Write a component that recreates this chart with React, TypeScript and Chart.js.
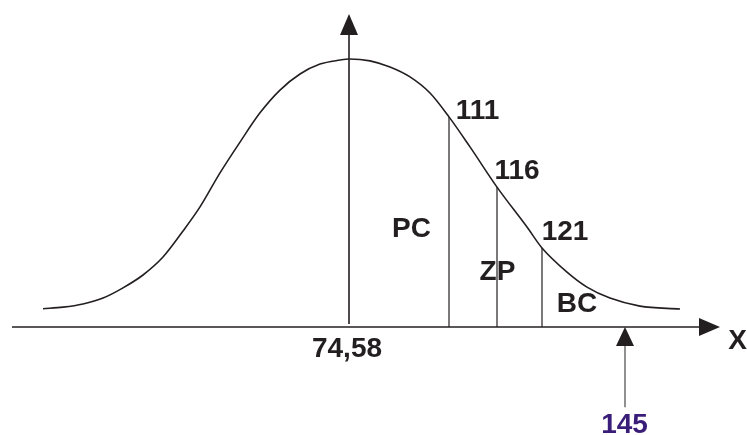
import { useEffect, useRef } from 'react';
import { Chart, registerables } from 'chart.js';

Chart.register(...registerables);

// ---- Data (schematic units: x in "positions" relative to the mean, y relative height, peak = 1) ----
const curveX = [-3.06, -2.86, -2.66, -2.46, -2.26, -2.06, -1.86, -1.66, -1.49, -1.29, -1.09, -0.89, -0.69, -0.49, -0.29, -0.09, 0, 0.21, 0.41, 0.61, 0.81, 1.0, 1.21, 1.48, 1.78, 1.93, 2.18, 2.38, 2.61, 2.91, 3.31];
const curveY = [0.068, 0.074, 0.086, 0.108, 0.146, 0.194, 0.261, 0.358, 0.448, 0.575, 0.69, 0.799, 0.884, 0.944, 0.981, 0.996, 1.0, 0.993, 0.97, 0.933, 0.873, 0.784, 0.672, 0.522, 0.373, 0.295, 0.205, 0.149, 0.108, 0.078, 0.067];

const cutLabels = ['111', '116', '121'];
const cutX = [1.0, 1.48, 1.93];
const cutY = [0.784, 0.522, 0.295];

const regionLabels = ['PC', 'ZP', 'BC'];

const meanLabel = '74,58';
const meanX = 0;
const meanAxisTop = 1.168;

const markLabel = '145';
const markX = 2.76;
const markBottom = -0.299;

const axisLabel = 'X';
const axisStart = -3.37;
const axisEnd = 3.71;

// ---- Text layout (in scale units) ----
const cutLabelPos = [
  [1.285, 0.776],
  [1.68, 0.552],
  [2.16, 0.325],
];
const regionLabelPos = [
  [0.625, 0.336],
  [1.485, 0.175],
  [2.28, 0.056],
];
const meanLabelPos = [-0.02, -0.112];
const markLabelPos = [2.755, -0.3955];
const axisLabelPos = [3.885, -0.082];

const INK = '#231f20';
const PURPLE = '#3a1d78';
const FONT = "bold 28px 'Liberation Sans', Arial, sans-serif";

const drawPlugin = {
  id: 'schematic',
  afterDatasetsDraw(chart: any) {
    const ctx = chart.ctx;
    const xs = chart.scales.x;
    const ys = chart.scales.y;
    const px = (v: number) => xs.getPixelForValue(v);
    const py = (v: number) => ys.getPixelForValue(v);
    ctx.save();

    // X axis
    const y0 = py(0);
    const tipX = px(axisEnd);
    ctx.strokeStyle = INK;
    ctx.fillStyle = INK;
    ctx.lineWidth = 1.5;
    ctx.beginPath();
    ctx.moveTo(px(axisStart), y0);
    ctx.lineTo(tipX - 18, y0);
    ctx.stroke();
    ctx.beginPath();
    ctx.moveTo(tipX, y0);
    ctx.lineTo(tipX - 21, y0 - 9);
    ctx.lineTo(tipX - 21, y0 + 9);
    ctx.closePath();
    ctx.fill();

    // Vertical (mean) axis
    const mx = px(meanX);
    const topY = py(meanAxisTop);
    ctx.lineWidth = 1.6;
    ctx.beginPath();
    ctx.moveTo(mx, y0 - 3);
    ctx.lineTo(mx, topY + 18);
    ctx.stroke();
    ctx.beginPath();
    ctx.moveTo(mx, topY);
    ctx.lineTo(mx - 9, topY + 21);
    ctx.lineTo(mx + 9, topY + 21);
    ctx.closePath();
    ctx.fill();

    // 145 marker arrow
    const kx = px(markX);
    ctx.strokeStyle = '#555';
    ctx.lineWidth = 1.3;
    ctx.beginPath();
    ctx.moveTo(kx, py(markBottom));
    ctx.lineTo(kx, y0 + 17);
    ctx.stroke();
    ctx.fillStyle = INK;
    ctx.beginPath();
    ctx.moveTo(kx, y0);
    ctx.lineTo(kx - 9, y0 + 19);
    ctx.lineTo(kx + 9, y0 + 19);
    ctx.closePath();
    ctx.fill();

    // Texts
    ctx.font = FONT;
    ctx.textAlign = 'center';
    ctx.textBaseline = 'alphabetic';
    ctx.fillStyle = INK;
    cutLabels.forEach((t, i) => ctx.fillText(t, px(cutLabelPos[i][0]), py(cutLabelPos[i][1])));
    regionLabels.forEach((t, i) => ctx.fillText(t, px(regionLabelPos[i][0]), py(regionLabelPos[i][1])));
    ctx.fillText(meanLabel, px(meanLabelPos[0]), py(meanLabelPos[1]));
    ctx.fillText(axisLabel, px(axisLabelPos[0]), py(axisLabelPos[1]));
    ctx.fillStyle = PURPLE;
    ctx.fillText(markLabel, px(markLabelPos[0]), py(markLabelPos[1]));

    ctx.restore();
  },
};

export default function App() {
  const ref = useRef<HTMLCanvasElement>(null);

  useEffect(() => {
    if (!ref.current) return;
    const datasets: any[] = [
      {
        data: curveX.map((x, i) => ({ x, y: curveY[i] })),
        showLine: true,
        borderColor: INK,
        borderWidth: 1.6,
        pointRadius: 0,
        tension: 0.4,
        cubicInterpolationMode: 'monotone',
      },
      ...cutX.map((x, i) => ({
        data: [
          { x, y: 0 },
          { x, y: cutY[i] },
        ],
        showLine: true,
        borderColor: INK,
        borderWidth: 1.2,
        pointRadius: 0,
      })),
    ];
    const chart = new Chart(ref.current, {
      type: 'scatter',
      data: { datasets },
      options: {
        animation: false,
        responsive: false,
        maintainAspectRatio: false,
        devicePixelRatio: 1,
        layout: { padding: 0 },
        plugins: { legend: { display: false }, tooltip: { enabled: false } },
        events: [],
        scales: {
          x: { type: 'linear', min: -3.49, max: 3.98, display: false },
          y: { type: 'linear', min: -0.403, max: 1.2201, display: false },
        },
      },
      plugins: [drawPlugin],
    });
    return () => chart.destroy();
  }, []);

  return (
    <div style={{ position: 'fixed', left: 0, top: 0, width: 747, height: 435, background: '#fff' }}>
      <canvas ref={ref} width={747} height={435} style={{ display: 'block' }} />
    </div>
  );
}
